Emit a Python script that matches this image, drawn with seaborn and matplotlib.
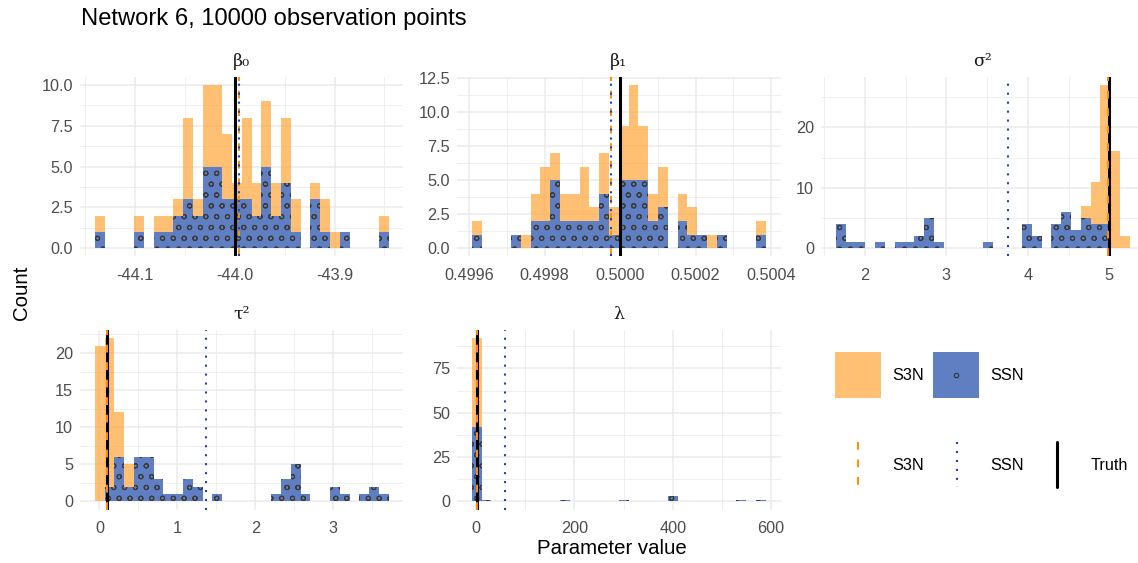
import numpy as np
import pandas as pd
import matplotlib
matplotlib.use("Agg")
import matplotlib.pyplot as plt
import seaborn as sns
from matplotlib.ticker import MultipleLocator, FormatStrFormatter
from matplotlib.patches import Rectangle
from matplotlib.lines import Line2D

# ---------------- data (bin counts) ----------------
title = "Network 6, 10000 observation points"
panel_labels = ["β₀", "β₁", "σ²", "τ²", "λ"]
groups = ["S3N", "SSN"]

# beta0
b0_lo, b0_w = -44.140, 0.00981
b0_s3n = [2, 0, 0, 0, 2, 0, 2, 2, 3, 8, 3, 10, 10, 7, 4, 8, 4, 9, 4, 8, 3, 0, 4, 3, 1, 1, 0, 0, 0, 2]
b0_ssn = [1, 0, 0, 0, 1, 0, 1, 1, 2, 3, 2, 5, 5, 3, 3, 3, 2, 5, 2, 4, 1, 0, 3, 1, 0, 1, 0, 0, 0, 1]
b0_lines = {"truth": -44.0, "S3N": -43.9953, "SSN": -43.9953}

# beta1
b1_lo, b1_w = 0.499607, 0.00002597
b1_s3n = [2, 0, 0, 0, 1, 1, 4, 6, 7, 4, 4, 6, 3, 7, 3, 9, 12, 9, 4, 6, 0, 4, 3, 1, 1, 1, 0, 0, 0, 2]
b1_ssn = [1, 0, 0, 0, 1, 0, 2, 2, 5, 2, 2, 2, 2, 4, 1, 5, 5, 5, 2, 3, 0, 2, 1, 1, 0, 1, 0, 0, 0, 1]
b1_lines = {"truth": 0.5, "S3N": 0.499977, "SSN": 0.499977}

# sigma^2
s2_lo, s2_w = 1.64, 0.1204
s2_s3n = [0] * 25 + [7, 11, 27, 16, 2]
s2_ssn = [4, 1, 1, 0, 1, 0, 1, 1, 2, 5, 1, 0, 0, 0, 0, 1, 0, 0, 0, 4, 2, 0, 4, 6, 3, 5, 4, 4, 0, 0]
s2_lines = {"truth": 5.0, "S3N": 4.988, "SSN": 3.762}

# tau^2
t2_lo, t2_w = -0.06, 0.1258
t2_s3n = [21, 22, 12, 5] + [0] * 26
t2_ssn = [0, 2, 6, 2, 6, 6, 3, 1, 1, 3, 2, 0, 1, 0, 0, 0, 0, 0, 1, 3, 5, 1, 0, 0, 2, 1, 0, 1, 2, 1]
t2_lines = {"truth": 0.1, "S3N": 0.103, "SSN": 1.374}

# lambda
lm_lo, lm_w = -8.75, 19.93
lm_s3n = [92] + [0] * 29
lm_ssn = [42, 1, 0, 0, 0, 0, 0, 0, 0, 1, 0, 0, 0, 0, 0, 1, 0, 0, 0, 0, 3, 0, 0, 0, 0, 0, 0, 1, 0, 1]
lm_lines = {"truth": 2.0, "S3N": 3.0, "SSN": 59.6}

x_major = [0.1, 0.0002, 1, 1, 200]
y_major = [2.5, 2.5, 10, 5, 25]
x_fmt = ["%.1f", "%.4f", "%d", "%d", "%d"]
y_fmt = ["%.1f", "%.1f", "%d", "%d", "%d"]

# ---------------- style ----------------
DPI = 130
K = 100 / DPI  # sizes below were tuned for 100 dpi
sns.set_theme(style="white")
plt.rcParams["font.family"] = ["Liberation Sans", "DejaVu Sans"]
plt.rcParams["axes.unicode_minus"] = False
plt.rcParams["hatch.linewidth"] = 0.6
plt.rcParams["hatch.color"] = "#3A3A3A"

ORANGE = "#FF9F2A"
BLUE = "#5F7FC2"
ORANGE_LINE = "#FF8F00"
BLUE_LINE = "#1D44A8"
GRID = "#EBEBEB"

W, H = 1138, 563
fig = plt.figure(figsize=(W / DPI, H / DPI), dpi=DPI)


def rect(left, top, width, height):
    return [left / W, 1 - (top + height) / H, width / W, height / H]


panel_w, panel_h = 323.5, 179.6
cols = [80, 457, 821]
rows = [76.8, 330.0]
positions = [(cols[0], rows[0]), (cols[1], rows[0]), (cols[2], rows[0]),
             (cols[0], rows[1]), (cols[1], rows[1])]

panels = [
    (b0_lo, b0_w, b0_s3n, b0_ssn, b0_lines),
    (b1_lo, b1_w, b1_s3n, b1_ssn, b1_lines),
    (s2_lo, s2_w, s2_s3n, s2_ssn, s2_lines),
    (t2_lo, t2_w, t2_s3n, t2_ssn, t2_lines),
    (lm_lo, lm_w, lm_s3n, lm_ssn, lm_lines),
]

for i, (lo, bw, s3n, ssn, lines) in enumerate(panels):
    left, top = positions[i]
    width = min(panel_w, W - left)
    ax = fig.add_axes(rect(left, top, width, panel_h))
    nb = len(s3n)
    edges = lo + bw * np.arange(nb + 1)
    centers = (edges[:-1] + edges[1:]) / 2
    df = pd.DataFrame({"value": np.concatenate([centers, centers]),
                       "count": np.concatenate([s3n, ssn]).astype(float),
                       "model": ["S3N"] * nb + ["SSN"] * nb})
    bin_list = [float(e) for e in edges]
    sns.histplot(data=df[df.model == "S3N"], x="value", weights="count", bins=bin_list,
                 ax=ax, color=ORANGE, alpha=0.65, linewidth=0, zorder=2)
    sns.histplot(data=df[df.model == "SSN"], x="value", weights="count", bins=bin_list,
                 ax=ax, color=BLUE, alpha=1, edgecolor="#3A3A3A", linewidth=0,
                 hatch="oo", zorder=3)

    ax.axvline(lines["truth"], color="black", lw=2.2 * K, zorder=5)
    ax.axvline(lines["S3N"], color=ORANGE_LINE, lw=1.4 * K, dashes=(4, 5), zorder=6)
    ax.axvline(lines["SSN"], color=BLUE_LINE, lw=1.5 * K, dashes=(1, 3.3), zorder=7)

    # ggplot-like limits: 5% expansion on data + reference lines
    xs = [edges[0], edges[-1]] + list(lines.values())
    x0, x1 = min(xs), max(xs)
    pad = 0.05 * (x1 - x0)
    xlo, xhi = x0 - pad, x1 + pad
    xhi = xlo + (xhi - xlo) * width / panel_w
    ax.set_xlim(xlo, xhi)
    ymax = max(max(s3n), max(ssn))
    ax.set_ylim(-0.05 * ymax, 1.05 * ymax)

    ax.xaxis.set_major_locator(MultipleLocator(x_major[i]))
    ax.xaxis.set_minor_locator(MultipleLocator(x_major[i] / 2))
    ax.yaxis.set_major_locator(MultipleLocator(y_major[i]))
    ax.yaxis.set_minor_locator(MultipleLocator(y_major[i] / 2))
    ax.xaxis.set_major_formatter(FormatStrFormatter(x_fmt[i]))
    ax.yaxis.set_major_formatter(FormatStrFormatter(y_fmt[i]))
    ax.grid(which="major", color=GRID, lw=1.1 * K)
    ax.grid(which="minor", color=GRID, lw=0.55 * K)
    ax.set_axisbelow(True)
    for s in ax.spines.values():
        s.set_visible(False)
    ax.tick_params(which="both", length=0, labelsize=11.7 * K, labelcolor="#4D4D4D")
    ax.tick_params(axis="x", pad=8 * K)
    ax.tick_params(axis="y", pad=5 * K)
    ax.set_xlabel("")
    ax.set_ylabel("")
    ax.set_facecolor("white")

    # strip label
    fig.text((left + panel_w / 2) / W, 1 - (top - 11) / H, panel_labels[i],
             ha="center", va="baseline", fontsize=12.5 * K, color="#1A1A1A",
             family=["DejaVu Serif"])

# titles
fig.text(81 / W, 1 - 24.5 / H, title, ha="left", va="baseline", fontsize=17.1 * K, color="black")
fig.text(612 / W, 1 - 553.5 / H, "Parameter value", ha="center", va="baseline",
         fontsize=14.7 * K, color="black")
fig.text(22 / W, 1 - 293 / H, "Count", ha="center", va="center", rotation=90,
         fontsize=14.7 * K, color="black")

# legend (drawn in pixel coordinates)
lax = fig.add_axes([0, 0, 1, 1], zorder=10)
lax.set_xlim(0, W)
lax.set_ylim(H, 0)
lax.axis("off")
lax.patch.set_alpha(0)
lax.add_patch(Rectangle((835, 352), 46, 46, facecolor=ORANGE, alpha=0.65, edgecolor="none"))
lax.add_patch(Rectangle((933.5, 352), 46, 46, facecolor=BLUE, edgecolor="none"))
lax.plot([956.5], [375], marker="o", ms=3.2 * K, mfc="none", mec="#333333", mew=0.8 * K)
lax.text(892, 375, "S3N", ha="left", va="center", fontsize=11.7 * K, color="black")
lax.text(990, 375, "SSN", ha="left", va="center", fontsize=11.7 * K, color="black")
lax.add_line(Line2D([858.3, 858.3], [441.7, 486.7], color=ORANGE_LINE, lw=1.4 * K, dashes=(4, 5)))
lax.add_line(Line2D([956.7, 956.7], [441.7, 486.7], color=BLUE_LINE, lw=1.5 * K, dashes=(1, 3.3)))
lax.add_line(Line2D([1056.7, 1056.7], [441.7, 486.7], color="black", lw=2.2 * K))
lax.text(892, 465, "S3N", ha="left", va="center", fontsize=11.7 * K, color="black")
lax.text(990, 465, "SSN", ha="left", va="center", fontsize=11.7 * K, color="black")
lax.text(1091, 465, "Truth", ha="left", va="center", fontsize=11.7 * K, color="black")

fig.savefig("out.png", dpi=DPI, facecolor="white")
